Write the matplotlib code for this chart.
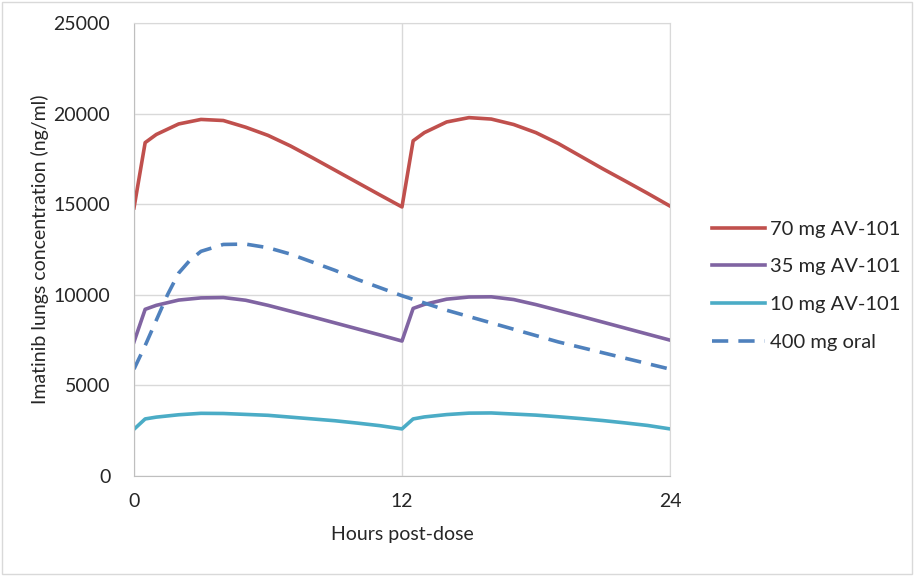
import matplotlib.pyplot as plt
from matplotlib.patches import Rectangle

plt.rcParams['font.family'] = ['Lato', 'DejaVu Sans']

# hours post-dose, two 12 h dosing intervals for the inhaled doses
hours = [0, 0.5, 1, 2, 3, 4, 5, 6, 7, 8, 9, 10, 11, 12,
         12.5, 13, 14, 15, 16, 17, 18, 19, 20, 21, 22, 23, 24]
av70 = [14800, 18400, 18850, 19430, 19680, 19620, 19250, 18800, 18220, 17560, 16880, 16200, 15520, 14850,
        18500, 18950, 19540, 19780, 19700, 19400, 18950, 18350, 17650, 16950, 16280, 15600, 14900]
av35 = [7400, 9200, 9420, 9710, 9830, 9850, 9700, 9420, 9100, 8780, 8450, 8120, 7790, 7450,
        9250, 9470, 9760, 9880, 9890, 9740, 9460, 9140, 8820, 8490, 8160, 7830, 7500]
av10 = [2580, 3150, 3250, 3380, 3460, 3450, 3400, 3350, 3250, 3150, 3050, 2920, 2780, 2600,
        3150, 3260, 3390, 3470, 3480, 3420, 3360, 3270, 3170, 3060, 2930, 2790, 2600]

oral_hours = [0, 0.5, 1, 1.5, 2, 2.5, 3, 4, 5, 6, 7, 8, 9, 10, 11, 12,
              13, 14, 15, 16, 17, 18, 19, 20, 21, 22, 23, 24]
oral400 = [5900, 7200, 8600, 10000, 11200, 11900, 12400, 12780, 12800, 12600, 12250, 11800, 11350, 10850, 10400, 9950,
           9550, 9150, 8800, 8450, 8100, 7750, 7400, 7100, 6800, 6500, 6200, 5900]

fig = plt.figure(figsize=(9.14, 5.76), dpi=100)
ax = fig.add_axes([0.1466, 0.1736, 0.5864, 0.7864])

lw = 2.6
ax.plot(hours, av70, color='#C0504D', lw=lw, label='70 mg AV-101')
ax.plot(hours, av35, color='#8064A2', lw=lw, label='35 mg AV-101')
ax.plot(hours, av10, color='#4BACC6', lw=lw, label='10 mg AV-101')
ax.plot(oral_hours, oral400, color='#4F81BD', lw=lw, ls=(0, (4.5, 2.8)), label='400 mg oral')

ax.set_xlim(0, 24)
ax.set_ylim(0, 25000)
ax.set_xticks([0, 12, 24])
ax.set_yticks(range(0, 25001, 5000))
ax.grid(True, color='#D9D9D9', lw=1)
ax.set_axisbelow(True)
ax.tick_params(length=0, labelsize=14, colors='#262626')
ax.tick_params(axis='y', pad=17)
ax.tick_params(axis='x', pad=12)
for s in ax.spines.values():
    s.set_color('#D9D9D9')
ax.spines['left'].set_color('#BFBFBF')
ax.spines['bottom'].set_color('#BFBFBF')

ax.set_xlabel('Hours post-dose', fontsize=14, color='#262626', labelpad=12)
ax.set_ylabel('Imatinib lungs concentration (ng/ml)', fontsize=14, color='#262626', labelpad=3)

ax.legend(loc='center left', bbox_to_anchor=(1.045, 0.42), frameon=False, fontsize=14.5,
          handlelength=2.6, handletextpad=0.25, labelspacing=1.02, labelcolor='#262626')

fig.patches.append(Rectangle((0.002, 0.003), 0.996, 0.994, transform=fig.transFigure,
                             fill=False, edgecolor='#D9D9D9', lw=1))

fig.savefig('out.png', dpi=100)
